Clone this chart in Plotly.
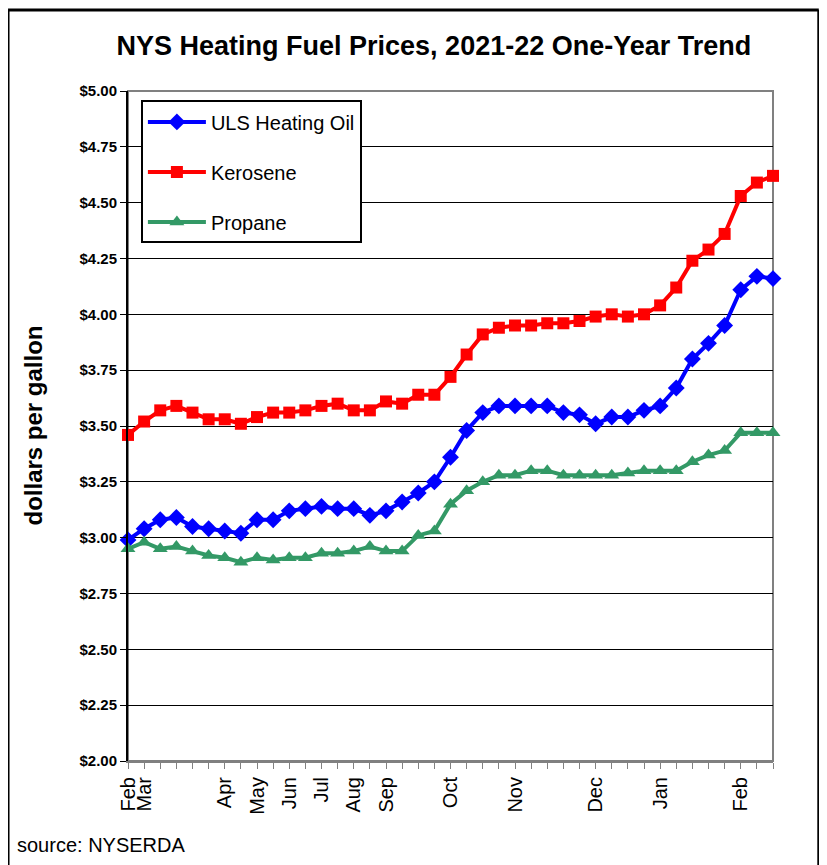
import plotly.graph_objects as go

# ---- data ----
tick_labels = ["Feb", "Mar", "", "", "", "", "Apr", "", "May", "", "Jun", "", "Jul", "", "Aug", "",
               "Sep", "", "", "", "Oct", "", "", "", "Nov", "", "", "", "", "Dec", "", "", "",
               "Jan", "", "", "", "", "Feb", "", ""]
x_idx = list(range(len(tick_labels)))

uls_heating_oil = [2.99, 3.04, 3.08, 3.09, 3.05, 3.04, 3.03, 3.02, 3.08, 3.08, 3.12, 3.13, 3.14, 3.13,
                   3.13, 3.10, 3.12, 3.16, 3.20, 3.25, 3.36, 3.48, 3.56, 3.59, 3.59, 3.59, 3.59, 3.56,
                   3.55, 3.51, 3.54, 3.54, 3.57, 3.59, 3.67, 3.80, 3.87, 3.95, 4.11, 4.17, 4.16]
kerosene = [3.46, 3.52, 3.57, 3.59, 3.56, 3.53, 3.53, 3.51, 3.54, 3.56, 3.56, 3.57, 3.59, 3.60,
            3.57, 3.57, 3.61, 3.60, 3.64, 3.64, 3.72, 3.82, 3.91, 3.94, 3.95, 3.95, 3.96, 3.96,
            3.97, 3.99, 4.00, 3.99, 4.00, 4.04, 4.12, 4.24, 4.29, 4.36, 4.53, 4.59, 4.62]
propane = [2.95, 2.98, 2.95, 2.96, 2.94, 2.92, 2.91, 2.89, 2.91, 2.90, 2.91, 2.91, 2.93, 2.93,
           2.94, 2.96, 2.94, 2.94, 3.01, 3.03, 3.15, 3.21, 3.25, 3.28, 3.28, 3.30, 3.30, 3.28,
           3.28, 3.28, 3.28, 3.29, 3.30, 3.30, 3.30, 3.34, 3.37, 3.39, 3.47, 3.47, 3.47]

y_tick_vals = [2.00, 2.25, 2.50, 2.75, 3.00, 3.25, 3.50, 3.75, 4.00, 4.25, 4.50, 4.75, 5.00]
y_tick_text = ["$%.2f" % v for v in y_tick_vals]

FONT = "Liberation Sans, Arial, sans-serif"

fig = go.Figure()
series = [
    ("ULS Heating Oil", uls_heating_oil, "#0000FF", "diamond", 13),
    ("Kerosene", kerosene, "#FF0000", "square", 12),
    ("Propane", propane, "#339966", "triangle-up", 13),
]
for i, (name, vals, col, sym, size) in enumerate(series):
    fig.add_trace(go.Scatter(
        x=x_idx, y=vals, name=name, mode="lines+markers",
        line=dict(color=col, width=4),
        marker=dict(symbol=sym, size=size, color=col),
        cliponaxis=False, legendgroup="g%d" % i,
    ))

fig.update_layout(
    width=827, height=865,
    margin=dict(l=120, r=62, t=83, b=112),
    paper_bgcolor="white", plot_bgcolor="white",
    font=dict(family=FONT, color="black"),
    title=dict(text="NYS Heating Fuel Prices, 2021-22 One-Year Trend",
               font=dict(family=FONT, size=27, weight="bold", color="black"),
               x=0.515, xanchor="center", y=0.957, yanchor="middle"),
    showlegend=True,
    legend=dict(x=0.02, y=0.986, xanchor="left", yanchor="top",
                bordercolor="black", borderwidth=2, bgcolor="white",
                font=dict(family=FONT, size=20, color="black"),
                tracegroupgap=21, entrywidth=231,
                itemwidth=58),
)

fig.update_xaxes(
    range=[0, len(tick_labels) - 1],
    tickmode="array", tickvals=x_idx, ticktext=tick_labels,
    tickangle=-90, tickfont=dict(family=FONT, size=20, color="black"),
    ticks="outside", ticklen=6, tickcolor="#808080", tickwidth=1,
    showline=True, linecolor="#808080", linewidth=2,
    showgrid=False, zeroline=False,
)
fig.update_yaxes(
    range=[2, 5],
    tickmode="array", tickvals=y_tick_vals, ticktext=y_tick_text,
    tickfont=dict(family=FONT, size=15, weight="bold", color="black"),
    ticks="outside", ticklen=6, tickcolor="black", tickwidth=1,
    showline=True, linecolor="black", linewidth=2,
    showgrid=True, gridcolor="black", gridwidth=1,
    zeroline=False,
)

# plot-area border (gray) and outer chart frame
fig.add_shape(type="rect", xref="paper", yref="paper", x0=0, x1=1, y0=0, y1=1,
              line=dict(color="#808080", width=2), layer="between")
fig.add_shape(type="line", xref="paper", yref="paper", x0=-0.186, x1=-0.186, y0=-0.4, y1=1.121,
              line=dict(color="black", width=3))
fig.add_shape(type="line", xref="paper", yref="paper", x0=-0.186, x1=1.071, y0=1.121, y1=1.121,
              line=dict(color="black", width=3))
fig.add_shape(type="line", xref="paper", yref="paper", x0=1.071, x1=1.071, y0=-0.4, y1=1.121,
              line=dict(color="black", width=3))

fig.add_annotation(text="dollars per gallon", xref="paper", yref="paper",
                   x=-0.147, y=0.501, textangle=-90, showarrow=False,
                   xanchor="center", yanchor="middle",
                   font=dict(family=FONT, size=24, weight="bold", color="black"))
fig.add_annotation(text="source: NYSERDA", xref="paper", yref="paper",
                   x=-0.175, y=-0.125, showarrow=False, xanchor="left", yanchor="middle",
                   font=dict(family=FONT, size=20, color="black"))

fig.write_html("out.html")
